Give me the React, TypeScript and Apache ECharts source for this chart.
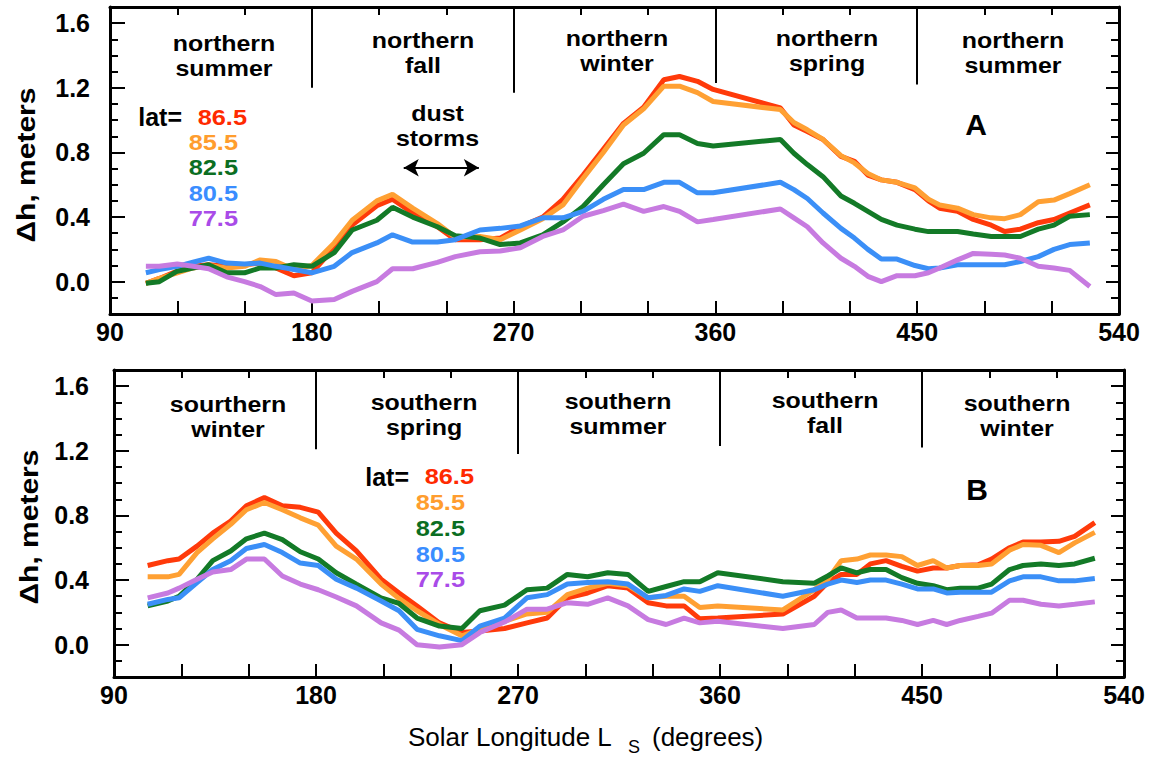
import React, { useEffect, useRef } from "react";
import * as echarts from "echarts";

// ---------- data ----------
const X_TICK_LABELS = [90, 180, 270, 360, 450, 540];
const Y_TICK_LABELS = [0, 0.4, 0.8, 1.2, 1.6];
const SEASON_BOUNDS = [180, 270, 360, 450];
const DIVIDER_END_A = [1.2, 1.17, 1.23, 1.22];
const DIVIDER_END_B = [1.21, 1.18, 1.23, 1.22];
const LATITUDES = ["86.5", "85.5", "82.5", "80.5", "77.5"];
const SEASONS_A = [
  ["northern", "summer"],
  ["northern", "fall"],
  ["northern", "winter"],
  ["northern", "spring"],
  ["northern", "summer"],
];
const SEASONS_B = [
  ["sourthern", "winter"],
  ["southern", "spring"],
  ["southern", "summer"],
  ["southern", "fall"],
  ["southern", "winter"],
];

const X_A = [106, 112, 120, 127, 134, 142, 150, 157, 164, 172, 180, 190, 198, 209, 216,
  225, 236, 244, 255, 264, 273, 283, 292, 301, 310, 319, 328, 337, 344, 352, 359,
  389, 395, 401, 408, 416, 422, 428, 434, 441, 449, 455, 460, 468, 475, 483, 489, 496, 504, 511, 518, 527];
const RED_A = [-0.01, 0.02, 0.065, 0.095, 0.105, 0.095, 0.105, 0.115, 0.085, 0.037, 0.055, 0.21, 0.35, 0.47, 0.51,
  0.425, 0.34, 0.26, 0.26, 0.27, 0.34, 0.4, 0.51, 0.66, 0.82, 0.98, 1.08, 1.25, 1.27, 1.24, 1.19,
  1.075, 0.97, 0.93, 0.88, 0.775, 0.745, 0.66, 0.63, 0.615, 0.57, 0.5, 0.455, 0.435, 0.385, 0.35, 0.31, 0.325, 0.365, 0.385, 0.425, 0.475];
const ORANGE_A = [-0.01, 0.02, 0.055, 0.085, 0.1, 0.085, 0.095, 0.135, 0.125, 0.075, 0.1, 0.24, 0.38, 0.5, 0.54,
  0.455, 0.36, 0.275, 0.28, 0.26, 0.32, 0.39, 0.475, 0.64, 0.8, 0.97, 1.07, 1.21, 1.21, 1.17, 1.115,
  1.065, 0.985, 0.94, 0.88, 0.78, 0.735, 0.67, 0.63, 0.615, 0.58, 0.51, 0.475, 0.455, 0.415, 0.395, 0.39, 0.415, 0.495, 0.505, 0.545, 0.6];
const GREEN_A = [-0.01, 0.0, 0.065, 0.085, 0.105, 0.055, 0.055, 0.085, 0.085, 0.105, 0.095, 0.18, 0.32, 0.38, 0.46,
  0.4, 0.34, 0.285, 0.27, 0.23, 0.24, 0.29, 0.37, 0.465, 0.6, 0.73, 0.795, 0.91, 0.91, 0.855, 0.84,
  0.88, 0.795, 0.725, 0.65, 0.53, 0.485, 0.435, 0.385, 0.35, 0.325, 0.31, 0.31, 0.31, 0.295, 0.28, 0.28, 0.28, 0.325, 0.35, 0.405, 0.415];
const BLUE_A = [0.055, 0.075, 0.095, 0.12, 0.145, 0.115, 0.11, 0.115, 0.095, 0.075, 0.055, 0.095, 0.18, 0.24, 0.29,
  0.245, 0.245, 0.26, 0.32, 0.33, 0.345, 0.395, 0.395, 0.435, 0.51, 0.57, 0.57, 0.615, 0.615, 0.55, 0.55,
  0.615, 0.57, 0.515, 0.425, 0.33, 0.27, 0.2, 0.14, 0.14, 0.1, 0.08, 0.085, 0.105, 0.105, 0.105, 0.105, 0.125, 0.155, 0.2, 0.23, 0.24];
const PURPLE_A = [0.095, 0.095, 0.11, 0.095, 0.08, 0.03, 0.0, -0.03, -0.08, -0.07, -0.12, -0.11, -0.06, 0.0, 0.08,
  0.08, 0.12, 0.155, 0.185, 0.19, 0.21, 0.28, 0.32, 0.405, 0.44, 0.48, 0.435, 0.465, 0.435, 0.37, 0.385,
  0.45, 0.395, 0.34, 0.24, 0.145, 0.095, 0.033, 0.0, 0.037, 0.037, 0.055, 0.085, 0.135, 0.175, 0.17, 0.165, 0.145, 0.095, 0.085, 0.07, -0.03];

const X_B = [105, 114, 119, 127, 134, 142, 149, 157, 165, 173, 181, 189, 198, 209, 217,
  225, 235, 245, 253, 264, 274, 283, 292, 301, 310, 319, 328, 336, 344, 351, 359,
  388, 402, 408, 414, 421, 427, 434, 441, 448, 455, 461, 467, 475, 481, 489, 495, 503, 511, 518, 527];
const RED_B = [0.49, 0.52, 0.53, 0.61, 0.69, 0.765, 0.86, 0.91, 0.86, 0.85, 0.82, 0.69, 0.58, 0.405, 0.32,
  0.24, 0.135, 0.075, 0.085, 0.1, 0.135, 0.165, 0.29, 0.32, 0.365, 0.35, 0.26, 0.24, 0.24, 0.16, 0.165,
  0.19, 0.3, 0.385, 0.435, 0.435, 0.5, 0.52, 0.485, 0.455, 0.475, 0.475, 0.49, 0.495, 0.53, 0.6, 0.635, 0.635, 0.64, 0.67, 0.755];
const ORANGE_B = [0.42, 0.42, 0.435, 0.57, 0.655, 0.745, 0.835, 0.88, 0.835, 0.785, 0.74, 0.61, 0.53, 0.375, 0.285,
  0.21, 0.125, 0.055, 0.095, 0.145, 0.19, 0.2, 0.31, 0.35, 0.38, 0.365, 0.29, 0.3, 0.3, 0.23, 0.24,
  0.215, 0.34, 0.405, 0.52, 0.53, 0.555, 0.555, 0.545, 0.49, 0.52, 0.475, 0.49, 0.49, 0.5, 0.585, 0.62, 0.615, 0.57, 0.63, 0.695];
const GREEN_B = [0.24, 0.27, 0.3, 0.405, 0.52, 0.58, 0.655, 0.69, 0.65, 0.575, 0.53, 0.445, 0.375, 0.29, 0.255,
  0.165, 0.115, 0.1, 0.21, 0.245, 0.34, 0.35, 0.435, 0.42, 0.445, 0.435, 0.33, 0.36, 0.39, 0.39, 0.445,
  0.39, 0.38, 0.425, 0.475, 0.445, 0.465, 0.465, 0.415, 0.38, 0.365, 0.34, 0.35, 0.35, 0.375, 0.465, 0.49, 0.5, 0.49, 0.5, 0.535];
const BLUE_B = [0.25, 0.28, 0.29, 0.385, 0.465, 0.52, 0.595, 0.62, 0.57, 0.505, 0.49, 0.405, 0.35, 0.27, 0.21,
  0.095, 0.055, 0.025, 0.115, 0.165, 0.29, 0.31, 0.375, 0.385, 0.39, 0.375, 0.29, 0.305, 0.345, 0.33, 0.365,
  0.3, 0.34, 0.375, 0.4, 0.385, 0.4, 0.4, 0.375, 0.345, 0.345, 0.32, 0.325, 0.325, 0.325, 0.395, 0.42, 0.42, 0.395, 0.395, 0.41];
const PURPLE_B = [0.29, 0.32, 0.35, 0.405, 0.45, 0.465, 0.53, 0.53, 0.425, 0.375, 0.34, 0.295, 0.24, 0.135, 0.09,
  0.0, -0.015, 0.0, 0.075, 0.14, 0.22, 0.22, 0.26, 0.25, 0.29, 0.24, 0.155, 0.125, 0.165, 0.135, 0.145,
  0.1, 0.125, 0.2, 0.215, 0.165, 0.165, 0.165, 0.15, 0.125, 0.15, 0.125, 0.15, 0.175, 0.195, 0.275, 0.275, 0.25, 0.24, 0.25, 0.265];

// ---------- styles ----------
const FF = "'Liberation Sans', Arial, Helvetica, sans-serif";
const LINE_COLORS = ["#ff3a0a", "#ffa033", "#137a27", "#3b8ff7", "#c77be0"];
const TEXT_COLORS = ["#ff2a00", "#ff9d2e", "#0b6e22", "#3a8dff", "#a94be8"];

const pts = (xs: number[], ys: number[]) => xs.map((x, i) => [x, ys[i]]);

function mkX(gridIndex: number, position: string, labels: boolean) {
  return {
    type: "value", gridIndex, position, min: 90, max: 540, interval: 30,
    axisLine: { show: true, onZero: false, lineStyle: { color: "#000", width: 3 } },
    axisTick: { show: true, inside: true, length: labels ? 13 : 8, lineStyle: { color: "#000", width: 2 } },
    axisLabel: labels
      ? { show: true, customValues: X_TICK_LABELS, margin: 5, fontSize: 25, fontWeight: "bold", color: "#000", fontFamily: FF }
      : { show: false },
    splitLine: { show: false },
  };
}

function mkY(gridIndex: number, margin: number) {
  const base = { type: "value", gridIndex, min: -0.2, max: 1.7, splitLine: { show: false } };
  return [
    {
      ...base, position: "left",
      axisLine: { show: true, onZero: false, lineStyle: { color: "#000", width: 3 } },
      axisTick: { show: true, inside: true, length: 15, customValues: Y_TICK_LABELS, lineStyle: { color: "#000", width: 2 } },
      axisLabel: { show: true, customValues: Y_TICK_LABELS, formatter: (v: number) => v.toFixed(1), margin, fontSize: 25, fontWeight: "bold", color: "#000", fontFamily: FF },
    },
    {
      ...base, position: "left", interval: 0.1,
      axisLine: { show: false },
      axisTick: { show: true, inside: true, length: 8, lineStyle: { color: "#000", width: 2 } },
      axisLabel: { show: false },
    },
    {
      ...base, position: "right",
      axisLine: { show: true, onZero: false, lineStyle: { color: "#000", width: 3 } },
      axisTick: { show: true, inside: true, length: 13, customValues: Y_TICK_LABELS, lineStyle: { color: "#000", width: 2 } },
      axisLabel: { show: false },
    },
    {
      ...base, position: "right", interval: 0.1,
      axisLine: { show: false },
      axisTick: { show: true, inside: true, length: 8, lineStyle: { color: "#000", width: 2 } },
      axisLabel: { show: false },
    },
  ];
}

function txt(x: number, y: number, text: string, o: any = {}) {
  const align = o.align || "center";
  const style: any = {
    text, fill: o.color || "#000", fontSize: o.size || 25, fontWeight: o.weight || "bold", fontFamily: FF,
    align, verticalAlign: "middle", textAlign: align, textVerticalAlign: "middle",
  };
  if (o.lineHeight) style.lineHeight = o.lineHeight;
  if (o.rich) style.rich = o.rich;
  return { type: "text", x, y, rotation: o.rot || 0, scaleX: o.sx || 1, silent: true, z: 100, style };
}

function legendBlock(x: number, y: number, lh: number) {
  const size = 21.5;
  const sx = 1.18;
  const rich: any = { sp: { width: 9 / sx, fontSize: size, lineHeight: lh } };
  TEXT_COLORS.forEach((c, i) => {
    rich["c" + i] = { fill: c, color: c, fontSize: size, fontWeight: "bold", fontFamily: FF, lineHeight: lh, align: "right" };
  });
  const text = LATITUDES.map((l, i) => (i === 0 ? `{c0|${l}}` : `{c${i}|${l}}{sp| }`)).join("\n");
  return txt(x, y, text, { align: "right", rich, lineHeight: lh, size, sx });
}

function dividers(ends: number[]) {
  return SEASON_BOUNDS.map((b, i) => [{ coord: [b, 1.7] }, { coord: [b, ends[i]] }]);
}

function panelSeries(xs: number[], ys: number[][], xi: number, yi: number, ends: number[], arrow: boolean) {
  return ys.map((vals, k) => {
    const s: any = {
      type: "line", xAxisIndex: xi, yAxisIndex: yi, data: pts(xs, vals), showSymbol: false, symbol: "none",
      lineStyle: { color: LINE_COLORS[k], width: 5 }, itemStyle: { color: LINE_COLORS[k] }, silent: true, z: 2 + k,
    };
    if (k === 0) {
      s.markLine = {
        silent: true, symbol: "none", label: { show: false }, animation: false,
        lineStyle: { color: "#000", width: 2, type: "solid" }, data: dividers(ends),
      };
    }
    if (k === 1 && arrow) {
      s.markLine = {
        silent: true, symbol: ["arrow", "arrow"], symbolSize: [13, 15], label: { show: false }, animation: false,
        lineStyle: { color: "#000", width: 2, type: "solid" }, data: [[{ coord: [221, 0.705] }, { coord: [254.5, 0.705] }]],
      };
    }
    return s;
  });
}

export default function App() {
  const ref = useRef<HTMLDivElement>(null);
  useEffect(() => {
    document.body.style.margin = "0";
    if (!ref.current) return;
    const chart = echarts.init(ref.current, undefined, { renderer: "svg" });

    const seasonPosA = [[224, 55], [423, 52.5], [617, 50.5], [827, 50.5], [1013, 52.5]];
    const seasonPosB = [[228, 416.5], [424, 414.5], [618, 413.5], [825, 412.5], [1017, 415.5]];
    const seasonOpt = { lineHeight: 25, size: 22.5, sx: 1.11 };
    const graphic: any[] = [];
    SEASONS_A.forEach((s, i) => graphic.push(txt(seasonPosA[i][0], seasonPosA[i][1], s.join("\n"), seasonOpt)));
    SEASONS_B.forEach((s, i) => graphic.push(txt(seasonPosB[i][0], seasonPosB[i][1], s.join("\n"), seasonOpt)));
    // legends
    graphic.push(txt(182, 117, "lat=", { align: "right" }));
    graphic.push(txt(409, 477, "lat=", { align: "right" }));
    graphic.push(legendBlock(247, 168, 25.3));
    graphic.push(legendBlock(474, 528.5, 25.8));
    graphic.push(txt(437.5, 125.5, "dust\nstorms", seasonOpt));
    graphic.push(txt(976, 124, "A", { size: 30 }));
    graphic.push(txt(977, 489, "B", { size: 30 }));
    graphic.push(txt(26, 165, "Δh, meters", { rot: Math.PI / 2, sx: 1.2 }));
    graphic.push(txt(29, 527, "Δh, meters", { rot: Math.PI / 2, sx: 1.2 }));
    graphic.push(txt(408, 737, "Solar Longitude L", { align: "left", weight: "normal", size: 26 }));
    graphic.push(txt(628, 747, "S", { align: "left", weight: "normal", size: 18 }));
    graphic.push(txt(652, 737, "(degrees)", { align: "left", weight: "normal", size: 26 }));

    const option: any = {
      animation: false,
      backgroundColor: "#fff",
      grid: [
        { left: 110, top: 7, width: 1009, height: 307 },
        { left: 114, top: 370, width: 1010, height: 307 },
      ],
      xAxis: [mkX(0, "bottom", true), mkX(0, "top", false), mkX(1, "bottom", true), mkX(1, "top", false)],
      yAxis: [...mkY(0, 20), ...mkY(1, 25)],
      series: [
        ...panelSeries(X_A, [RED_A, ORANGE_A, GREEN_A, BLUE_A, PURPLE_A], 0, 0, DIVIDER_END_A, true),
        ...panelSeries(X_B, [RED_B, ORANGE_B, GREEN_B, BLUE_B, PURPLE_B], 2, 4, DIVIDER_END_B, false),
      ],
      graphic,
    };
    chart.setOption(option);
    return () => chart.dispose();
  }, []);
  return <div ref={ref} style={{ width: 1149, height: 757 }} />;
}
